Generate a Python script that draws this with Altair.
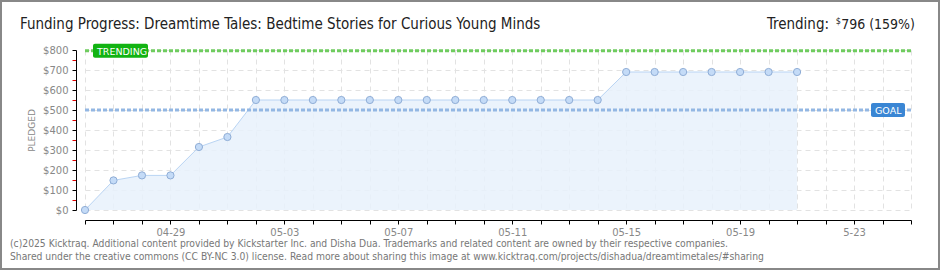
import altair as alt
import pandas as pd

# ---- data ----
dates = ["2025-04-26", "2025-04-27", "2025-04-28", "2025-04-29", "2025-04-30",
         "2025-05-01", "2025-05-02", "2025-05-03", "2025-05-04", "2025-05-05",
         "2025-05-06", "2025-05-07", "2025-05-08", "2025-05-09", "2025-05-10",
         "2025-05-11", "2025-05-12", "2025-05-13", "2025-05-14", "2025-05-15",
         "2025-05-16", "2025-05-17", "2025-05-18", "2025-05-19", "2025-05-20",
         "2025-05-21"]
pledged = [0, 148, 173, 173, 315, 365, 550, 550, 550, 550, 550, 550, 550, 550,
           550, 550, 550, 550, 550, 690, 690, 690, 690, 690, 690, 690]
goal = 500
trending = 796
axis_start = "2025-04-26"
axis_end = "2025-05-25"
x_label_keys = ["04-29", "05-03", "05-07", "05-11", "05-15", "05-19", "05-23"]
x_label_texts = ["04-29", "05-03", "05-07", "05-11", "05-15", "05-19", "5-23"]
y_ticks = list(range(0, 801, 50))

title_text = "Funding Progress: Dreamtime Tales: Bedtime Stories for Curious Young Minds"
footer1 = ("(c)2025 Kicktraq. Additional content provided by Kickstarter Inc. and Disha Dua. "
           "Trademarks and related content are owned by their respective companies.")
footer2 = ("Shared under the creative commons (CC BY-NC 3.0) license. Read more about sharing "
           "this image at www.kicktraq.com/projects/dishadua/dreamtimetales/#sharing")

df = pd.DataFrame({"date": dates, "pledged": pledged})


def ms(d):
    return int(pd.Timestamp(d, tz="UTC").value // 10**6)


start_ms = ms(axis_start)
end_ms = ms(axis_end)
day_ticks = [ms(d) for d in pd.date_range(axis_start, axis_end, freq="D")]

label_expr = "''"
for k, t in zip(reversed(x_label_keys), reversed(x_label_texts)):
    label_expr = f"(utcFormat(datum.value, '%m-%d') == '{k}' ? '{t}' : {label_expr})"

xscale = alt.Scale(type="utc", domain=[start_ms, end_ms])
yscale = alt.Scale(domain=[0, 800])

FONT = "DejaVu Sans"
TFONT = "DejaVu Sans Condensed, Liberation Sans Narrow, Roboto"
GRID = "#e2e2e2"

x_axis = alt.Axis(
    values=day_ticks, labelExpr=label_expr, title=None, offset=10,
    domainColor="#000", tickColor="#000", tickSize=4, labelColor="#888",
    labelFont=FONT, labelFontSize=10, labelPadding=3, labelAngle=0,
    grid=True, gridColor=GRID, gridDash=[5, 4], labelOverlap=False)
y_axis = alt.Axis(
    values=y_ticks, labelExpr="datum.value % 100 == 0 ? '$' + datum.value : ''",
    title="PLEDGED", titleColor="#888", titleFont=FONT, titleFontSize=9,
    titleFontWeight="normal", titlePadding=6, offset=9, labelOverlap=False,
    domainColor="#000", tickSize=4,
    tickColor={"condition": {"test": "datum.value % 100 != 0", "value": "#e00000"},
               "value": "#000"},
    labelColor="#888", labelFont=FONT, labelFontSize=10, labelPadding=4,
    grid=True, gridColor=GRID, gridDash=[5, 4],
    gridOpacity={"condition": {"test": "datum.value % 100 != 0", "value": 0},
                 "value": 1})

X = alt.X("date:T", scale=xscale, axis=x_axis)
Y = alt.Y("pledged:Q", scale=yscale, axis=y_axis)
YV = alt.Y("v:Q", scale=yscale, axis=y_axis)

base = alt.Chart(df)

area = base.mark_area(color="#e8f1fc", opacity=0.85,
                      line={"color": "#b9d4f3", "strokeWidth": 1}).encode(x=X, y=Y)

goal_rule = alt.Chart(pd.DataFrame({"v": [goal]})).mark_rule(
    color="#93b7e3", strokeWidth=3, strokeDash=[4, 2]).encode(y=YV)
trend_rule = alt.Chart(pd.DataFrame({"v": [trending]})).mark_rule(
    color="#6fcc5f", strokeWidth=3, strokeDash=[4, 2]).encode(y=YV)

points = base.mark_point(filled=True, size=52, color="#c4dbf7", stroke="#8fadd6",
                         strokeWidth=1, opacity=1).encode(x=X, y=Y)

XS = alt.datum(start_ms, type="temporal", scale=xscale, axis=x_axis)
XE = alt.datum(end_ms, type="temporal", scale=xscale, axis=x_axis)

trend_box = alt.Chart(pd.DataFrame({"v": [trending]})).mark_rect(
    color="#12b312", cornerRadius=2, xOffset=8, x2Offset=63, yOffset=-7, y2Offset=7).encode(
    x=XS, x2=alt.datum(start_ms), y=YV, y2="v:Q")
trend_txt = alt.Chart(pd.DataFrame({"v": [trending]})).mark_text(
    text="TRENDING", color="white", font=FONT, fontSize=9.5, align="left", dx=12, dy=1,
    baseline="middle").encode(x=XS, y=YV)

goal_box = alt.Chart(pd.DataFrame({"v": [goal]})).mark_rect(
    color="#3a86d4", cornerRadius=2, xOffset=-40, x2Offset=-6, yOffset=-7, y2Offset=7).encode(
    x=XE, x2=alt.datum(end_ms), y=YV, y2="v:Q")
goal_txt = alt.Chart(pd.DataFrame({"v": [goal]})).mark_text(
    text="GOAL", color="white", font=FONT, fontSize=9.5, align="left", dx=-36, dy=1,
    baseline="middle").encode(x=XE, y=YV)

one = pd.DataFrame({"k": [0]})
title = alt.Chart(one).mark_text(text=title_text, font=TFONT, fontSize=15, color="#222",
                                 align="left", baseline="alphabetic").encode(
    x=alt.value(-65), y=alt.value(-21))
tr1 = alt.Chart(one).mark_text(text="Trending:", font=TFONT, fontSize=15, color="#222",
                               align="right", baseline="alphabetic").encode(
    x=alt.value(744), y=alt.value(-21))
tr2 = alt.Chart(one).mark_text(text="$", font=TFONT, fontSize=9, color="#222",
                               align="right", baseline="alphabetic").encode(
    x=alt.value(756), y=alt.value(-26))
tr3 = alt.Chart(one).mark_text(text="796 (159%)", font=TFONT, fontSize=14, color="#222",
                               align="right", baseline="alphabetic").encode(
    x=alt.value(830), y=alt.value(-21))
f1 = alt.Chart(one).mark_text(text=footer1, font=TFONT, fontSize=10.25, color="#777",
                              align="left", baseline="alphabetic").encode(
    x=alt.value(-75), y=alt.value(197))
f2 = alt.Chart(one).mark_text(text=footer2, font=TFONT, fontSize=10.25, color="#777",
                              align="left", baseline="alphabetic").encode(
    x=alt.value(-75), y=alt.value(210))
border = alt.Chart(one).mark_rect(fill="transparent", stroke="#888", strokeWidth=2).encode(
    x=alt.value(-84), x2=alt.value(854), y=alt.value(-49), y2=alt.value(219))

chart = alt.layer(area, goal_rule, trend_rule, points, trend_box, trend_txt, goal_box, goal_txt,
                  title, tr1, tr2, tr3, f1, f2, border).properties(
    width=826, height=160, autosize="none",
    padding={"left": 85, "top": 50, "right": 29, "bottom": 60},
    background="white").configure_view(strokeWidth=0)

chart.save("out.html", embed_options={"renderer": "svg", "actions": False})
